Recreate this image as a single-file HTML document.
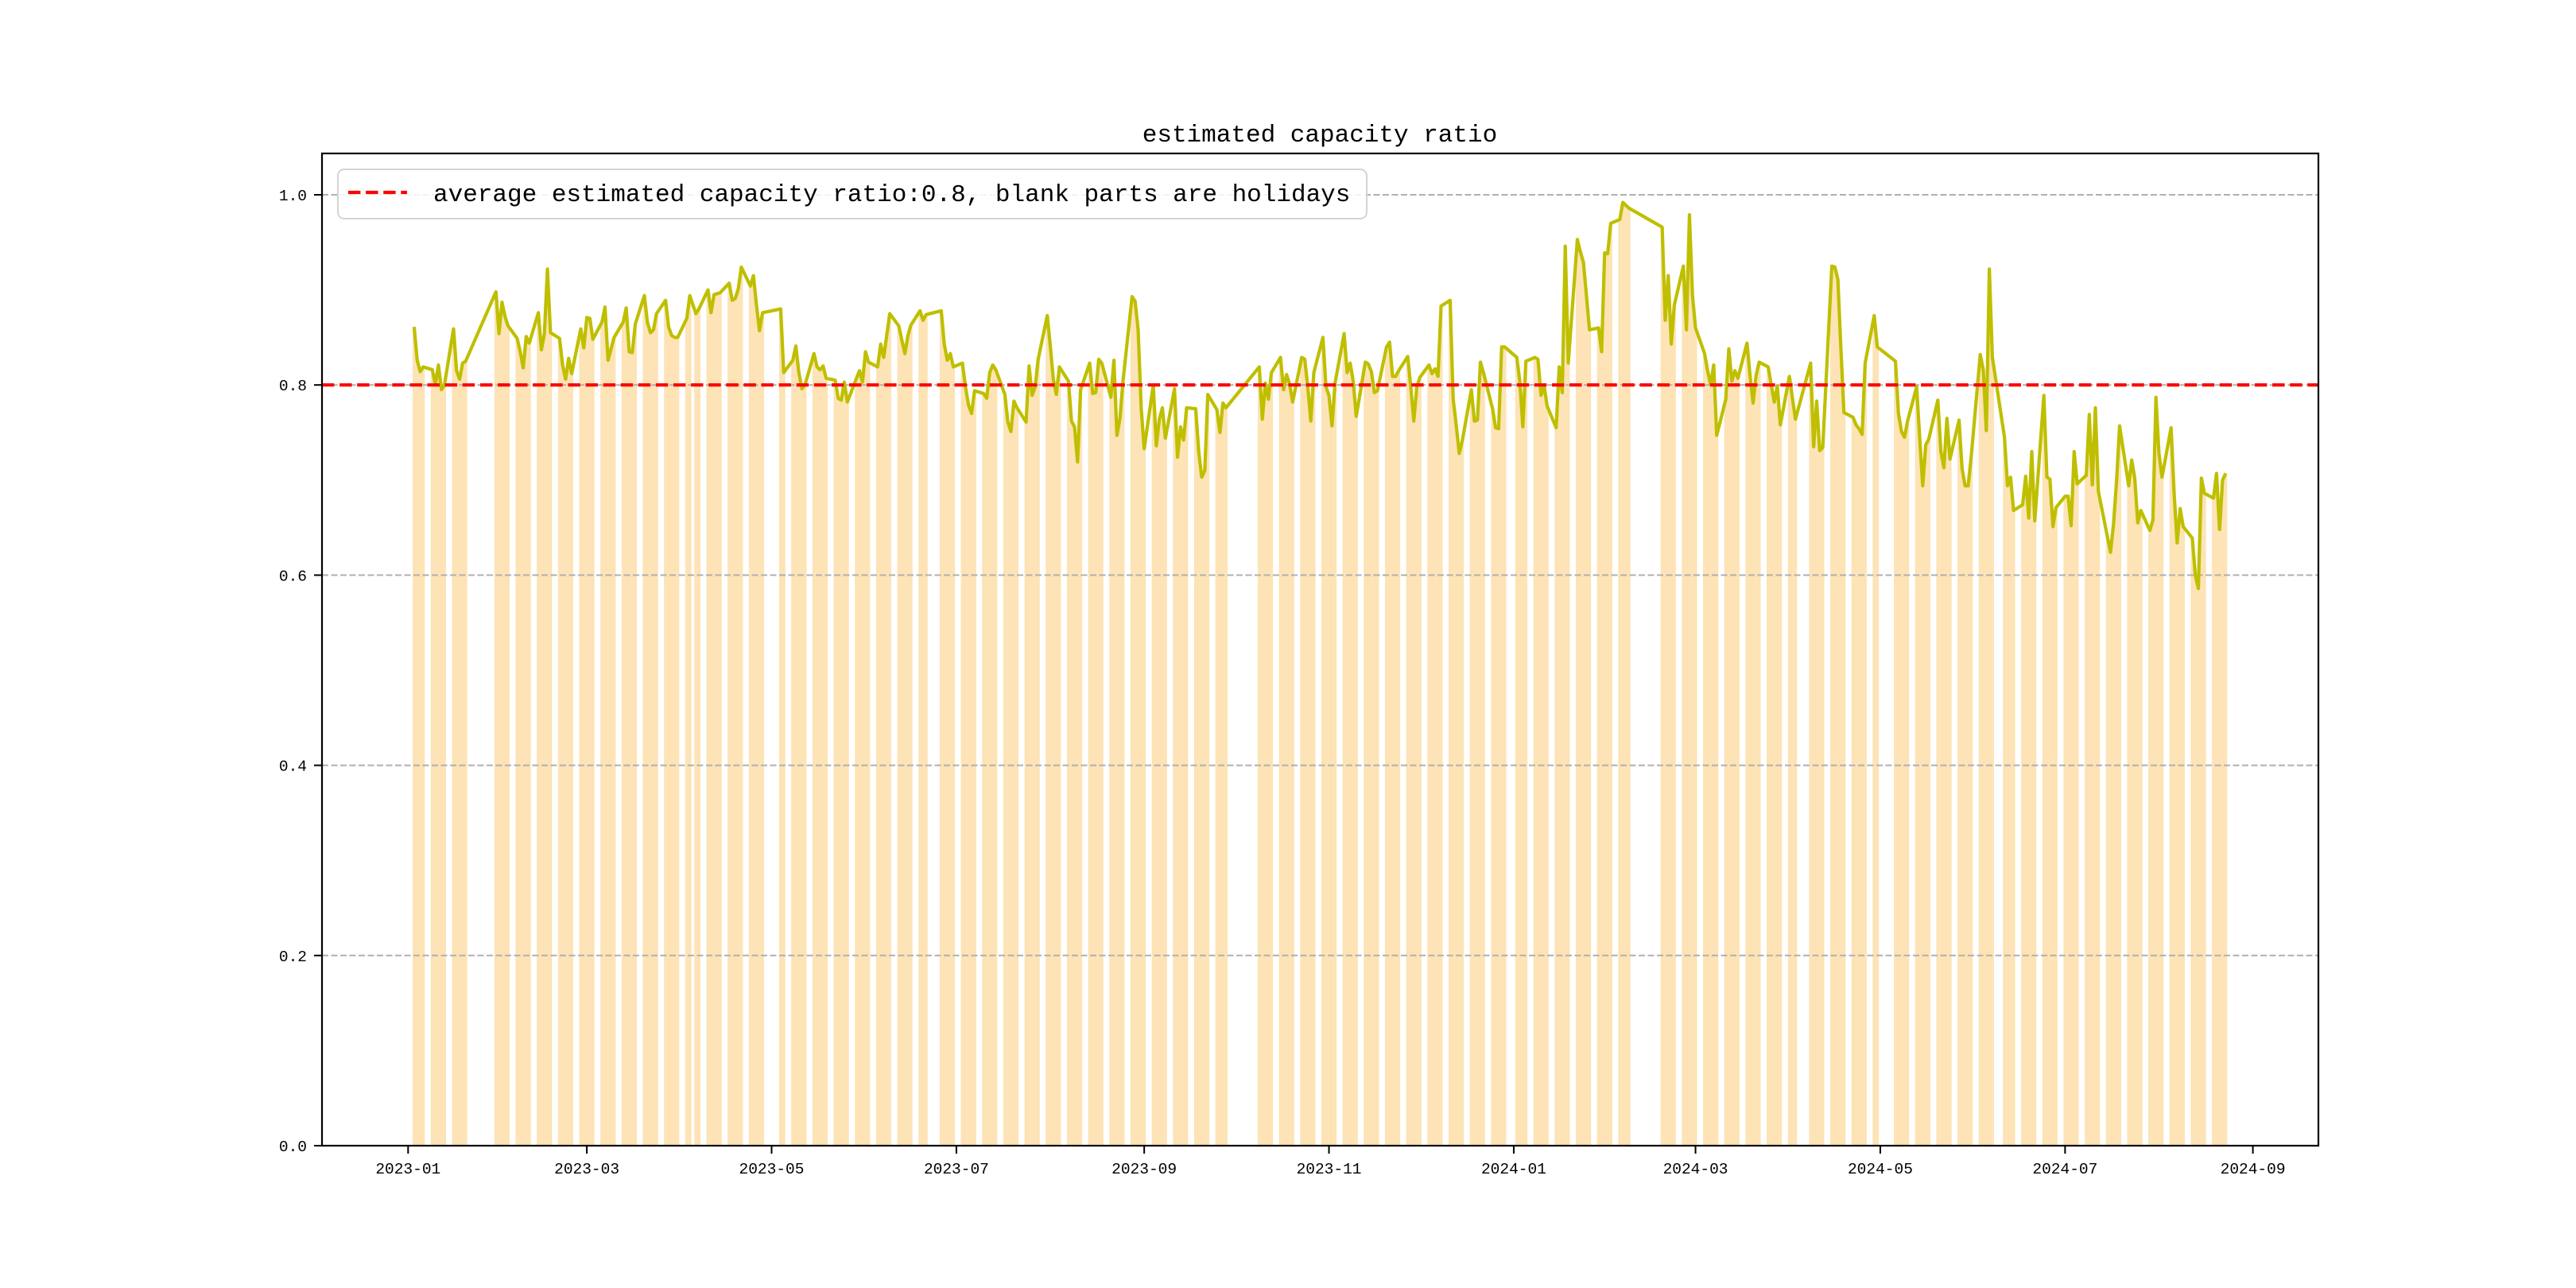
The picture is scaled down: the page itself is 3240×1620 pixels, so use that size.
<!DOCTYPE html>
<html><head><meta charset="utf-8"><style>
html,body{margin:0;padding:0;background:#fff;}
svg{display:block;}
text{font-family:"Liberation Mono","Noto Sans CJK SC",monospace;}
</style></head>
<body>
<svg id="chart" xmlns="http://www.w3.org/2000/svg" width="3240" height="1620" viewBox="0 0 3240 1620">
<rect x="0" y="0" width="3240" height="1620" fill="#fff"/>
<g id="grid"></g>
<g id="bars"></g>
<g id="lines"></g>
<rect x="405" y="193" width="2511" height="1248" fill="none" stroke="#000" stroke-width="2.2"/>
<g id="xaxis"></g>
<g id="yaxis"></g>
<text x="1660" y="178" font-size="31" text-anchor="middle">estimated capacity ratio</text>
<g>
<rect x="425" y="213" width="1294" height="62" rx="8" fill="#fff" fill-opacity="0.85" stroke="#d4d4d4" stroke-width="2"/>
<line x1="438" y1="242" x2="512" y2="242" stroke="#ff0000" stroke-width="4.2" stroke-dasharray="15.4 6.7"/>
<text x="545" y="253" font-size="31">average estimated capacity ratio:0.8, blank parts are holidays</text>
</g>
</svg>
<script>
const holidays = ["2023-01-02","2023-01-23","2023-01-24","2023-01-25","2023-01-26","2023-01-27","2023-04-05","2023-05-01","2023-05-02","2023-05-03","2023-06-22","2023-06-23","2023-09-29","2023-10-02","2023-10-03","2023-10-04","2023-10-05","2023-10-06","2024-01-01","2024-02-09","2024-02-12","2024-02-13","2024-02-14","2024-02-15","2024-02-16","2024-04-04","2024-04-05","2024-05-01","2024-05-02","2024-05-03","2024-06-10"];
const startDate = "2023-01-03";
const endDate = "2024-08-23";
const ratioValues = [
0.861,0.826,0.814,0.819,
0.816,0.800,0.821,0.795,0.800,
0.859,0.815,0.806,0.823,0.825,
0.898,0.854,0.887,0.872,0.862,
0.849,0.835,0.818,0.851,0.844,
0.876,0.837,0.854,0.922,0.855,
0.849,0.821,0.806,0.828,0.812,
0.859,0.839,0.871,0.870,0.848,
0.866,0.882,0.826,0.838,0.850,
0.866,0.881,0.835,0.834,0.864,
0.894,0.866,0.855,0.858,0.875,
0.889,0.861,0.852,0.850,0.850,
0.870,0.894,0.875,0.880,
0.900,0.876,0.895,0.896,0.897,
0.907,0.889,0.891,0.901,0.924,
0.904,0.915,0.884,0.857,0.876,
0.880,0.813,
0.826,0.841,0.813,0.796,0.800,
0.833,0.819,0.816,0.820,0.807,
0.805,0.786,0.784,0.803,0.782,
0.807,0.815,0.803,0.835,0.824,
0.819,0.843,0.829,0.852,0.875,
0.862,0.847,0.833,0.852,0.863,
0.878,0.868,0.874,
0.878,0.843,0.826,0.833,0.819,
0.823,0.798,0.779,0.770,0.794,
0.791,0.786,0.813,0.821,0.816,
0.790,0.761,0.751,0.783,0.776,
0.761,0.820,0.789,0.798,0.827,
0.873,0.841,0.806,0.790,0.819,
0.804,0.762,0.756,0.719,0.795,
0.823,0.791,0.792,0.827,0.823,
0.787,0.826,0.747,0.765,0.804,
0.893,0.888,0.858,0.776,0.733,
0.800,0.736,0.764,0.776,0.744,
0.796,0.724,0.756,0.742,0.776,
0.775,0.730,0.703,0.710,0.790,
0.774,0.750,0.781,0.776,
0.819,0.764,0.802,0.785,0.813,
0.829,0.795,0.811,0.801,0.782,
0.829,0.827,0.798,0.762,0.813,
0.850,0.798,0.789,0.757,0.802,
0.854,0.813,0.823,0.804,0.767,
0.824,0.822,0.814,0.792,0.794,
0.840,0.845,0.809,0.809,0.815,
0.830,0.798,0.762,0.798,0.808,
0.821,0.812,0.817,0.809,0.883,
0.889,0.785,0.758,0.728,0.741,
0.795,0.762,0.763,0.824,0.813,
0.775,0.755,0.754,0.840,0.840,
0.829,0.804,0.756,0.825,
0.829,0.827,0.789,0.800,0.778,
0.755,0.819,0.792,0.946,0.823,
0.953,0.940,0.929,0.894,0.858,
0.860,0.835,0.939,0.938,0.970,
0.974,0.992,0.989,0.986,
0.966,0.868,0.915,0.843,0.884,
0.925,0.858,0.979,0.894,0.860,
0.833,0.815,0.800,0.821,0.747,
0.785,0.838,0.804,0.815,0.807,
0.844,0.810,0.781,0.810,0.824,
0.819,0.800,0.782,0.799,0.758,
0.809,0.786,0.764,
0.823,0.735,0.783,0.731,0.734,
0.925,0.924,0.911,0.838,0.771,
0.766,0.758,0.754,0.748,0.823,
0.873,0.840,
0.825,0.770,0.751,0.745,0.762,
0.798,0.745,0.694,0.737,0.743,
0.784,0.730,0.713,0.765,0.722,
0.763,0.712,0.694,0.694,0.724,
0.832,0.816,0.752,0.922,0.829,
0.745,0.694,0.703,0.668,
0.674,0.704,0.660,0.730,0.657,
0.789,0.703,0.701,0.651,0.671,
0.683,0.683,0.652,0.730,0.696,
0.705,0.769,0.695,0.776,0.688,
0.640,0.624,0.654,0.699,0.757,
0.694,0.721,0.702,0.655,0.668,
0.647,0.658,0.787,0.728,0.703,
0.755,0.686,0.634,0.670,0.651,
0.639,0.600,0.586,0.702,0.686,
0.681,0.707,0.648,0.700,0.707
];
const averageRatio = [0.8];
const yTicks = [0, 0.2, 0.4, 0.6, 0.8, 1.0];
const yTickLabels = ["0.0","0.2","0.4","0.6","0.8","1.0"];
const xTickDates = ["2023-01-01","2023-03-01","2023-05-01","2023-07-01","2023-09-01","2023-11-01","2024-01-01","2024-03-01","2024-05-01","2024-07-01","2024-09-01"];
const xTickLabels = ["2023-01","2023-03","2023-05","2023-07","2023-09","2023-11","2024-01","2024-03","2024-05","2024-07","2024-09"];

const NS = "http://www.w3.org/2000/svg";
const DAY = 86400000;
const origin = Date.UTC(2023,0,1);
function dayIndex(s){const p=s.split("-");return (Date.UTC(+p[0],+p[1]-1,+p[2])-origin)/DAY;}
function xScale(d){return 513.3 + d*3.81;}
function yScale(v){return 1441 - v*1196;}
function iso(t){return new Date(t).toISOString().slice(0,10);}

const hol = new Set(holidays);
const days = [];
for(let t=origin+dayIndex(startDate)*DAY; t<=origin+dayIndex(endDate)*DAY; t+=DAY){
  const wd = new Date(t).getUTCDay();
  if(wd===0||wd===6) continue;
  if(hol.has(iso(t))) continue;
  days.push((t-origin)/DAY);
}
const n = Math.min(days.length, ratioValues.length);

const grid = document.getElementById("grid");
yTicks.forEach(function(v){
  const l = document.createElementNS(NS,"line");
  
  
  l.setAttribute("x1",405);l.setAttribute("x2",2916);
  l.setAttribute("y1",yScale(v));l.setAttribute("y2",yScale(v));
  l.setAttribute("stroke","#b0b0b0");l.setAttribute("stroke-width","2");
  l.setAttribute("stroke-dasharray","8 3.5");
  grid.appendChild(l);
});

const bars = document.getElementById("bars");
const bw = 3.95;
for(let i=0;i<n;i++){
  const r = document.createElementNS(NS,"rect");
  
  
  const x = xScale(days[i]) - bw/2;
  r.setAttribute("x",x.toFixed(2));
  r.setAttribute("width",bw.toFixed(2));
  r.setAttribute("y",yScale(ratioValues[i]).toFixed(2));
  r.setAttribute("height",(1441-yScale(ratioValues[i])).toFixed(2));
  r.setAttribute("fill","#fde3b5");
  bars.appendChild(r);
}
bars.parentNode.insertBefore(bars, grid);

const lines = document.getElementById("lines");
let dstr = "";
for(let i=0;i<n;i++){
  dstr += (i?"L":"M") + xScale(days[i]).toFixed(2) + " " + yScale(ratioValues[i]).toFixed(2);
}
const p = document.createElementNS(NS,"path");


p.setAttribute("d",dstr);
p.setAttribute("fill","none");p.setAttribute("stroke","#bfbf00");
p.setAttribute("stroke-width","4.2");p.setAttribute("stroke-linejoin","round");
lines.appendChild(p);

const avg = document.createElementNS(NS,"line");


avg.setAttribute("x1",405);avg.setAttribute("x2",2916);
avg.setAttribute("y1",yScale(averageRatio[0]));avg.setAttribute("y2",yScale(averageRatio[0]));
avg.setAttribute("stroke","#ff0000");avg.setAttribute("stroke-width","4.2");
avg.setAttribute("stroke-dasharray","15.4 6.7");
lines.appendChild(avg);

const xa = document.getElementById("xaxis");
xTickDates.forEach(function(s,i){
  const x = xScale(dayIndex(s));
  const t = document.createElementNS(NS,"line");
  
  
  t.setAttribute("x1",x);t.setAttribute("x2",x);t.setAttribute("y1",1441);t.setAttribute("y2",1451);
  t.setAttribute("stroke","#000");t.setAttribute("stroke-width","2");
  xa.appendChild(t);
  const tx = document.createElementNS(NS,"text");
  
  
  tx.setAttribute("x",x);tx.setAttribute("y",1476);
  tx.setAttribute("font-size","19.5");tx.setAttribute("text-anchor","middle");
  tx.textContent = xTickLabels[i];
  xa.appendChild(tx);
});
const ya = document.getElementById("yaxis");
yTicks.forEach(function(v,i){
  const y = yScale(v);
  const t = document.createElementNS(NS,"line");
  
  
  t.setAttribute("x1",395);t.setAttribute("x2",405);t.setAttribute("y1",y);t.setAttribute("y2",y);
  t.setAttribute("stroke","#000");t.setAttribute("stroke-width","2");
  ya.appendChild(t);
  const tx = document.createElementNS(NS,"text");
  
  
  tx.setAttribute("x",386);tx.setAttribute("y",y+7);
  tx.setAttribute("font-size","19.5");tx.setAttribute("text-anchor","end");
  tx.textContent = yTickLabels[i];
  ya.appendChild(tx);
});
</script>
</body></html>
